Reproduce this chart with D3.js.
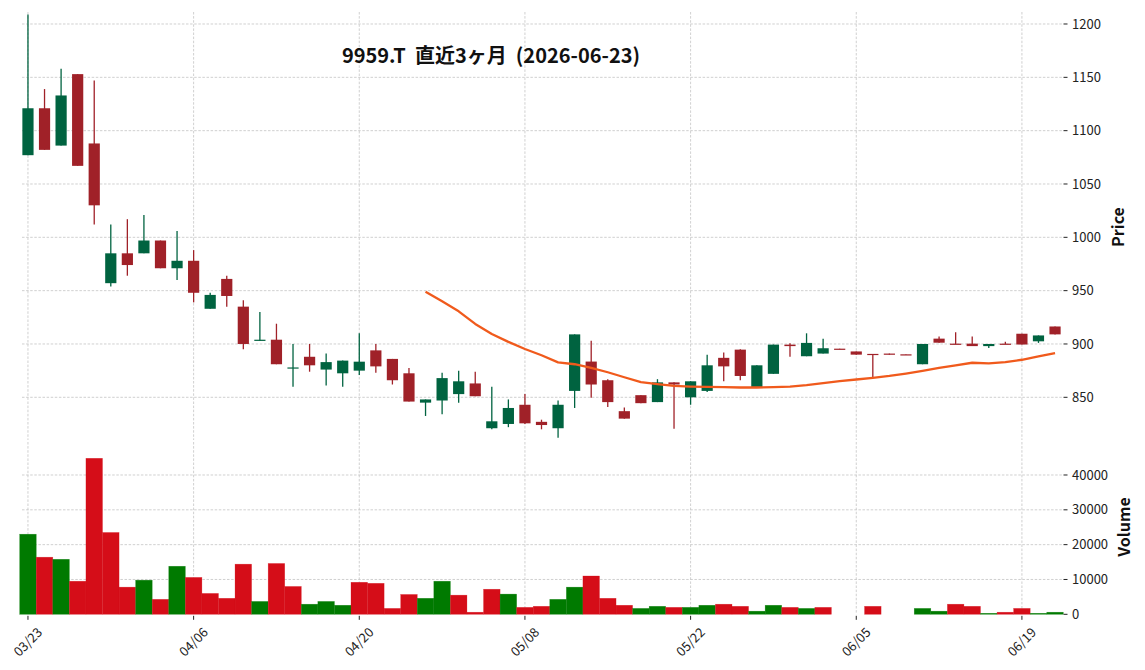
<!DOCTYPE html>
<html>
<head>
<meta charset="utf-8">
<script src="https://cdn.jsdelivr.net/npm/d3@7"></script>
<style>
  body { margin: 0; background: #fff; }
  svg { display: block; font-family: "Noto Sans CJK JP", "Noto Sans", sans-serif; }
</style>
</head>
<body>
<div id="chart"></div>
<script>
// 9959.T daily candles, last ~3 months
const dates = [
  '03/23','03/24','03/25','03/26','03/27','03/30','03/31','04/01','04/02','04/03',
  '04/06','04/07','04/08','04/09','04/10','04/13','04/14','04/15','04/16','04/17',
  '04/20','04/21','04/22','04/23','04/24','04/27','04/28','04/30','05/01','05/07',
  '05/08','05/11','05/12','05/13','05/14','05/15','05/18','05/19','05/20','05/21',
  '05/22','05/25','05/26','05/27','05/28','05/29','06/01','06/02','06/03','06/04',
  '06/05','06/08','06/09','06/10','06/11','06/12','06/15','06/16','06/17','06/18',
  '06/19','06/22','06/23'
];

const opens = [
  1077, 1121, 1086, 1153, 1088,  957, 985, 985, 997, 971,
  978, 933, 961, 935, 903,  904, 877, 888, 876, 872.5,
  875, 894, 886, 872.5, 845,  847, 853, 863, 821, 825,
  843, 827, 821, 856, 883.5,  866, 837, 852, 845.5, 864,
  850, 856, 887, 894.7, 859.5,  872, 899.4, 888.5, 891, 895.6,
  893, 890.7, 891, 890.3, 881,  905, 900.3, 900.3, 898, 900.3,
  909.6, 902.5, 916.4
];
const highs = [
  1209, 1139, 1158, 1153, 1147,  1012, 1017, 1021, 997, 1006,
  988, 948, 964, 941, 930,  919, 900, 900, 891, 884.4,
  910, 900, 886, 877.5, 848,  873, 875, 874, 860, 848,
  853, 829, 847, 909, 903,  867, 840.5, 852, 867, 864,
  865, 890, 892, 895, 880,  899.4, 900.6, 910, 905, 895.6,
  893, 890.7, 891, 890.3, 900,  907, 911, 907, 900, 902,
  909.6, 908, 916.4
];
const lows = [
  1077, 1082, 1086, 1067, 1012,  954, 964, 985, 971, 960,
  939, 933, 935, 895, 903,  881, 860, 874, 861, 860,
  871, 873, 862, 846, 832.5,  834, 845, 851, 820, 822,
  825, 820, 812, 840, 849.5,  841, 830, 844.5, 845.5, 820.6,
  843, 855, 865, 866, 859.5,  872, 888, 888.5, 891, 895,
  890, 869, 890, 889.9, 881,  901.2, 899.7, 898, 896.3, 899.7,
  899.5, 901, 909
];
const closes = [
  1121, 1082, 1133, 1067, 1030,  985, 974, 997, 971, 978,
  948, 946, 945, 900, 904,  881, 878, 880, 883, 884.4,
  883.4, 879, 866, 846, 848,  868, 865, 851, 827.5, 840,
  825.6, 824, 843, 909, 862,  845.5, 830, 844.5, 864, 862,
  865, 880, 879, 870, 880,  899.4, 898, 901, 896, 895,
  890, 889.8, 890, 889.9, 900,  901.2, 899.7, 898, 900, 899.7,
  899.5, 908, 909
];
const volumes = [
  23000, 16400, 15800, 9500, 44800,  23500, 7800, 9800, 4300, 13800,
  10600, 6000, 4600, 14400, 3700,  14600, 8000, 2900, 3700, 2600,
  9200, 8900, 1700, 5700, 4600,  9500, 5500, 600, 7200, 5800,
  2000, 2300, 4300, 7800, 11000,  4600, 2600, 1700, 2300, 2000,
  2000, 2600, 2900, 2300, 900,  2600, 2000, 1700, 2000, 0,
  0, 2300, 0, 0, 1700,  900, 2900, 2300, 300, 600,
  1700, 300, 600
];
// 25-day moving average, starts at the 25th session
const maStart = 24;
const ma25 = [
  949, 940, 930.6, 918.8, 909.4, 902, 895.3, 889.4, 882.8, 881,
  877.6, 873.5, 868.8, 864.2, 862.3, 860.7, 860.1, 859.8, 859.5, 859.2,
  859.2, 859.5, 860.1, 861.4, 863.2, 865.1, 866.7, 868.2, 870, 872.2,
  874.7, 877.5, 880, 882.4, 881.8, 883, 885.2, 888.3, 891.4
];
const priceTicks = [850, 900, 950, 1000, 1050, 1100, 1150, 1200];
const volTicks = [0, 10000, 20000, 30000, 40000];
const xTickIdx = [0, 10, 20, 30, 40, 50, 60];

const W = 1145, H = 670;
const left = 22, right = 1062;
const priceTop = 12, priceBottom = 440;
const volTop = 442, volBottom = 614.3;

const UP = '#006340', DOWN = '#a02128';
const VUP = '#007a00', VDOWN = '#d50d18';
const GRID = '#c4c4c4';

const svg = d3.select('#chart').append('svg')
  .attr('width', W).attr('height', H);

const x = d3.scaleLinear().domain([-0.36, 62.42]).range([left, right]);
const y = d3.scaleLinear().domain([809.97, 1211.25]).range([priceBottom, priceTop]);
const yv = d3.scaleLinear().domain([0, 49475]).range([volBottom, volTop]);
const step = x(1) - x(0);

// grids
const grid = svg.append('g').attr('stroke', GRID).attr('stroke-width', 0.8)
  .attr('stroke-dasharray', '2.5,1.6').attr('fill', 'none');
grid.selectAll('.pg').data(priceTicks).join('line')
  .attr('x1', left).attr('x2', right)
  .attr('y1', d => y(d)).attr('y2', d => y(d));
grid.selectAll('.vg').data(volTicks.slice(1)).join('line')
  .attr('x1', left).attr('x2', right)
  .attr('y1', d => yv(d)).attr('y2', d => yv(d));
grid.selectAll('.xg1').data(xTickIdx).join('line')
  .attr('x1', d => x(d)).attr('x2', d => x(d))
  .attr('y1', priceTop).attr('y2', priceBottom);
grid.selectAll('.xg2').data(xTickIdx).join('line')
  .attr('x1', d => x(d)).attr('x2', d => x(d))
  .attr('y1', volTop).attr('y2', volBottom);

// candles
const idx = d3.range(dates.length);
const cg = svg.append('g');
cg.selectAll('line').data(idx).join('line')
  .attr('x1', i => x(i)).attr('x2', i => x(i))
  .attr('y1', i => y(highs[i])).attr('y2', i => y(lows[i]))
  .attr('stroke', i => closes[i] >= opens[i] ? UP : DOWN)
  .attr('stroke-width', 1.3);
const bodyW = 11.2;
cg.selectAll('rect').data(idx).join('rect')
  .attr('x', i => x(i) - bodyW / 2)
  .attr('width', bodyW)
  .attr('y', i => y(Math.max(opens[i], closes[i])))
  .attr('height', i => Math.max(1.2, Math.abs(y(opens[i]) - y(closes[i]))))
  .attr('fill', i => closes[i] >= opens[i] ? UP : DOWN);

// moving average
const maLine = d3.line()
  .x((d, k) => x(maStart + k))
  .y(d => y(d));
svg.append('path').datum(ma25)
  .attr('d', maLine)
  .attr('fill', 'none')
  .attr('stroke', '#f05a1c')
  .attr('stroke-width', 2.3)
  .attr('stroke-linejoin', 'round');

// volume, coloured by change from previous close
const volColor = i => (i === 0 || closes[i] >= closes[i - 1]) ? VUP : VDOWN;
svg.append('g').selectAll('rect').data(idx.filter(i => volumes[i] > 0)).join('rect')
  .attr('x', i => x(i) - step / 2)
  .attr('width', step)
  .attr('y', i => yv(volumes[i]))
  .attr('height', i => yv(0) - yv(volumes[i]))
  .attr('fill', volColor)
  .attr('stroke', volColor)
  .attr('stroke-opacity', 0.5)
  .attr('stroke-width', 0.5);

// right-hand axes
function rightAxis(scale, ticks) {
  const g = svg.append('g');
  g.selectAll('line').data(ticks).join('line')
    .attr('x1', right + 1.5).attr('x2', right + 5.5)
    .attr('y1', d => scale(d)).attr('y2', d => scale(d))
    .attr('stroke', '#222').attr('stroke-width', 1);
  g.selectAll('text').data(ticks).join('text')
    .attr('x', right + 10).attr('y', d => scale(d))
    .attr('dy', '0.35em')
    .attr('font-size', 13).attr('fill', '#222')
    .text(d => d);
}
rightAxis(y, priceTicks);
rightAxis(yv, volTicks);

svg.append('text')
  .attr('transform', 'translate(1118,227) rotate(-90)')
  .attr('text-anchor', 'middle').attr('dy', '0.35em')
  .attr('font-size', 16).attr('font-weight', 700).attr('fill', '#111')
  .text('Price');
svg.append('text')
  .attr('transform', 'translate(1124,527) rotate(-90)')
  .attr('text-anchor', 'middle').attr('dy', '0.35em')
  .attr('font-size', 16).attr('font-weight', 700).attr('fill', '#111')
  .text('Volume');

// x axis ticks and labels
const xa = svg.append('g');
xa.selectAll('line').data(xTickIdx).join('line')
  .attr('x1', d => x(d)).attr('x2', d => x(d))
  .attr('y1', volBottom + 1.5).attr('y2', volBottom + 5.5)
  .attr('stroke', '#222');
xa.selectAll('text').data(xTickIdx).join('text')
  .attr('transform', d => `translate(${x(d)},642) rotate(-45)`)
  .attr('text-anchor', 'middle').attr('dy', '0.35em')
  .attr('font-size', 13).attr('fill', '#222')
  .text(d => dates[d]);

// title
svg.append('text')
  .attr('x', 491).attr('y', 56)
  .attr('text-anchor', 'middle').attr('dy', '0.35em')
  .attr('font-size', 20).attr('font-weight', 700).attr('fill', '#111')
  .attr('xml:space', 'preserve')
  .style('white-space', 'pre')
  .text('9959.T  直近3ヶ月  (2026-06-23)');
</script>
</body>
</html>
